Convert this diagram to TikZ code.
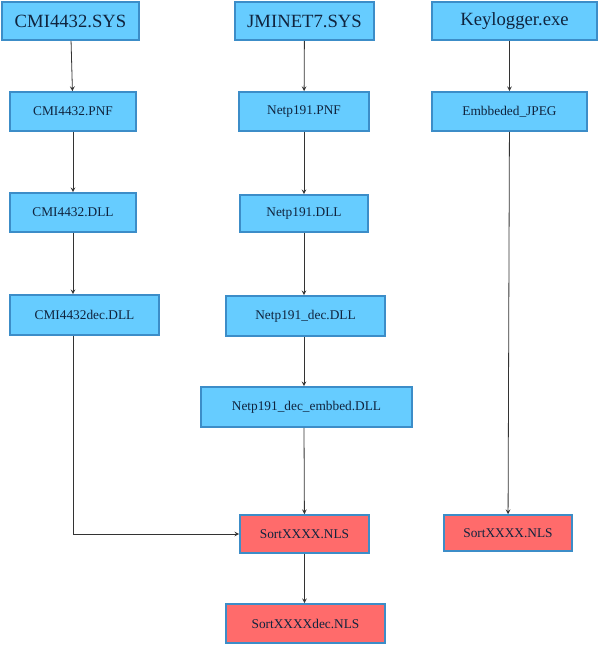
\documentclass[tikz,border=0pt]{standalone}
\usepackage{fontspec}
\setmainfont{Liberation Serif}
\definecolor{boxblue}{HTML}{66CCFF}
\definecolor{edgeblue}{HTML}{3C8DC8}
\definecolor{boxred}{HTML}{FF6B6B}
\definecolor{edgered}{HTML}{3C8DC8}
\definecolor{textblue}{HTML}{10243E}
\begin{document}
\begin{tikzpicture}
  [x=0.75pt, y=-0.75pt,
   file/.style={draw=edgeblue, line width=1.2pt, fill=boxblue, text=textblue, inner sep=0pt, font=\fontsize{10}{12}\selectfont},
   top/.style={file, font=\fontsize{14}{16}\selectfont},
   nls/.style={file, fill=boxred},
   link/.style={->, >=stealth, semithick, black!80}]
  \useasboundingbox (0,0) rectangle (600,645);
  % first row
  \node[top, minimum width=137*0.75pt, minimum height=38*0.75pt] (cmisys) at (70.5,21) {CMI4432.SYS};
  \node[top, minimum width=139*0.75pt, minimum height=38*0.75pt] (jmisys) at (304.5,21) {JMINET7.SYS};
  \node[top, minimum width=165*0.75pt, minimum height=38*0.75pt] (keylog) at (514.5,21) {Keylogger.exe};
  % left column
  \node[file, minimum width=126*0.75pt, minimum height=39*0.75pt] (cmipnf) at (73,111.5) {CMI4432.PNF};
  \node[file, minimum width=126*0.75pt, minimum height=39*0.75pt] (cmidll) at (73,212.5) {CMI4432.DLL};
  \node[file, minimum width=149*0.75pt, minimum height=40*0.75pt] (cmidec) at (84.5,315) {CMI4432dec.DLL};
  % middle column
  \node[file, minimum width=130*0.75pt, minimum height=39*0.75pt] (netpnf) at (304,111.5) {Netp191.PNF};
  \node[file, minimum width=128*0.75pt, minimum height=37*0.75pt] (netdll) at (304,213.5) {Netp191.DLL};
  \node[file, minimum width=159*0.75pt, minimum height=40*0.75pt] (netdec) at (305.5,316) {Netp191\_dec.DLL};
  \node[file, minimum width=211*0.75pt, minimum height=40*0.75pt] (netemb) at (306.5,407) {Netp191\_dec\_embbed.DLL};
  \node[nls, minimum width=129*0.75pt, minimum height=38*0.75pt] (sortmid) at (304.5,534) {SortXXXX.NLS};
  \node[nls, minimum width=159*0.75pt, minimum height=39*0.75pt] (sortdec) at (305.5,623.5) {SortXXXXdec.NLS};
  % right column
  \node[file, minimum width=155*0.75pt, minimum height=39*0.75pt] (jpeg) at (509.5,111.5) {Embbeded\_JPEG};
  \node[nls, minimum width=128*0.75pt, minimum height=36*0.75pt] (sortright) at (508,533) {SortXXXX.NLS};
  % links
  \draw[link] (cmisys) -- (cmipnf);
  \draw[link] (cmipnf) -- (cmidll);
  \draw[link] (cmidll) -- (cmidec.north -| cmidll);
  \draw[link] (cmidec.south -| cmidll) |- (sortmid.west);
  \draw[link] (jmisys) -- (netpnf);
  \draw[link] (netpnf) -- (netdll);
  \draw[link] (netdll) -- (netdec.north -| netdll);
  \draw[link] (netdec.south -| netdll) -- (netemb.north -| netdll);
  \draw[link] (netemb.south -| netdll) -- (sortmid);
  \draw[link] (sortmid) -- (sortdec.north -| sortmid);
  \draw[link] (keylog.south -| jpeg) -- (jpeg);
  \draw[link] (jpeg) -- (sortright);
\end{tikzpicture}
\end{document}
